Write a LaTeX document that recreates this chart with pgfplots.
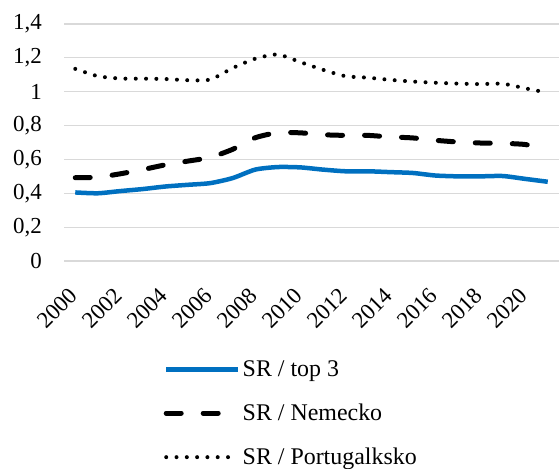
\documentclass[border=0pt]{standalone}
\usepackage{fontspec}
\setmainfont{Liberation Serif}
\usepackage{pgfplots}
\usepackage{pgfplotstable}
\pgfplotsset{compat=1.18}
\definecolor{sblue}{RGB}{0,112,192}
\definecolor{gridgray}{RGB}{217,217,217}

\pgfplotstableread{
year top3 nem por
2000 0.405 0.492 1.135
2001 0.400 0.495 1.092
2002 0.413 0.515 1.078
2003 0.425 0.540 1.077
2004 0.440 0.568 1.075
2005 0.450 0.590 1.068
2006 0.460 0.612 1.072
2007 0.490 0.660 1.140
2008 0.540 0.728 1.195
2009 0.555 0.758 1.220
2010 0.553 0.757 1.175
2011 0.540 0.746 1.130
2012 0.530 0.742 1.092
2013 0.530 0.742 1.083
2014 0.525 0.733 1.070
2015 0.520 0.727 1.060
2016 0.505 0.713 1.053
2017 0.500 0.703 1.048
2018 0.500 0.697 1.045
2019 0.502 0.695 1.047
2020 0.485 0.688 1.020
2021 0.468 0.660 0.994
}\data

\begin{document}
\begin{tikzpicture}
\useasboundingbox (0,0) rectangle (559bp,469bp);
\begin{axis}[
  at={(64bp,208bp)}, anchor=south west,
  scale only axis, width=495bp, height=237bp,
  xmin=1999.5, xmax=2021.5, ymin=0, ymax=1.4,
  clip=false,
  axis line style={draw=none},
  major tick length=0pt,
  ymajorgrids, grid style={gridgray, line width=1.2bp},
  xtick={2000,2002,2004,2006,2008,2010,2012,2014,2016,2018,2020},
  ytick={0,0.2,0.4,0.6,0.8,1,1.2,1.4},
  /pgf/number format/.cd, use comma, fixed, 1000 sep={}, assume math mode=true,
  /pgfplots/.cd,
  tick label style={font=\fontsize{23}{27}\selectfont},
  yticklabel style={anchor=east, inner sep=0pt, xshift=-22bp},
  xticklabel style={inner sep=0pt, anchor=east, xshift=-2bp, yshift=-31bp, rotate=45},
  legend style={draw=none, fill=none, at={(0.195,-0.403)}, anchor=north west,
    font=\fontsize{24}{28}\selectfont, row sep=22bp,
    nodes={inner sep=2bp}},
  legend cell align=left,
  legend image code/.code={\draw[#1] (0bp,0bp) -- (72bp,0bp);},
]
\addplot[color=sblue, line width=4.5bp, smooth, tension=0.4, line join=round] table[x=year, y=top3] {\data};
\addlegendentry{SR / top 3}
\addplot[color=black, line width=5bp, smooth, tension=0.4, line cap=round, dash pattern=on 15bp off 22bp] table[x=year, y=nem] {\data};
\addlegendentry{SR / Nemecko}
\addplot[color=black, line width=4bp, smooth, tension=0.4, line cap=round, dash pattern=on 0bp off 10.3bp] table[x=year, y=por] {\data};
\addlegendentry{SR / Portugalksko}
\end{axis}
\end{tikzpicture}
\end{document}
